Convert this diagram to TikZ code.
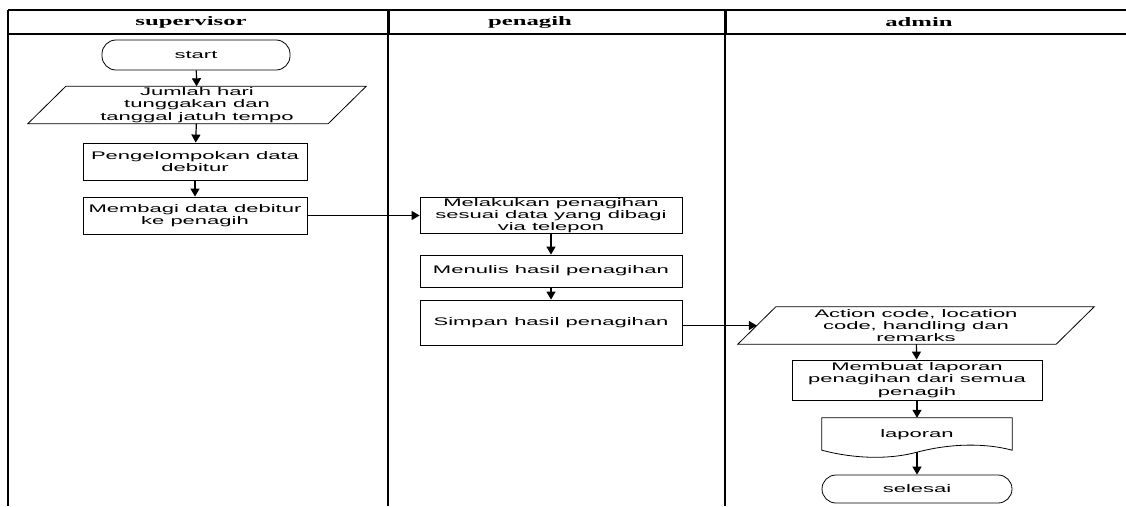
\documentclass[tikz,border=0pt]{standalone}
\usepackage{fontspec}
\newfontfamily\bodyfont[FakeStretch=2.0]{Liberation Sans}
\newfontfamily\headfont[FakeStretch=1.9]{Liberation Serif}
\usetikzlibrary{arrows.meta}
\begin{document}
\begin{tikzpicture}[x=1pt,y=-1pt,
  proc/.style={draw, line width=0.8pt, inner sep=0pt, align=center,
    font=\bodyfont\fontsize{11}{12.2}\selectfont},
  term/.style={proc, rounded corners=14pt},
  io/.style={inner sep=0pt, align=center,
    font=\bodyfont\fontsize{11}{12.2}\selectfont},
  shapeline/.style={line width=0.8pt},
  arr/.style={line width=1.2pt, -{Triangle[length=8pt,width=9pt]}},
  lane/.style={line width=1.4pt},
  lanehead/.style={line width=3pt},
  head/.style={font=\headfont\bfseries\fontsize{13}{15}\selectfont}]
\useasboundingbox (0,0) rectangle (1126,506);
\fill[white] (0,0) rectangle (1126,506);

% swimlane frame
\draw[lane] (8,10) -- (1126,10);
\draw[lane] (8,34) -- (1126,34);
\draw[lane] (8,10) -- (8,506);
\draw[lane] (388,10) -- (388,506);
\draw[lane] (725,10) -- (725,506);
\draw[lanehead] (388,10) -- (388,34);
\draw[lanehead] (725,10) -- (725,34);

\node[head] (hs) at (191,22) {supervisor};
\node[head] (hp) at (530,22) {penagih};
\node[head] (ha) at (919,22) {admin};

% supervisor lane
\node[term, minimum width=188pt, minimum height=30pt] (start) at (196,55) {start};
\node[io, minimum width=300pt, minimum height=37pt] (in1) at (197,105) {Jumlah hari\\tunggakan dan\\tanggal jatuh tempo};
\node[proc, minimum width=224pt, minimum height=37pt] (p1) at (195,161.5) {Pengelompokan data\\debitur};
\node[proc, minimum width=224pt, minimum height=37pt] (p2) at (195,215.5) {Membagi data debitur\\ke penagih};

% penagih lane
\node[proc, minimum width=262pt, minimum height=36pt] (q1) at (551,215.5) {Melakukan penagihan\\sesuai data yang dibagi\\via telepon};
\node[proc, minimum width=262pt, minimum height=32pt] (q2) at (551,271) {Menulis hasil penagihan};
\node[proc, minimum width=262pt, minimum height=45pt] (q3) at (551,322.5) {Simpan hasil penagihan};

% admin lane
\node[io, minimum width=318pt, minimum height=37pt] (in2) at (916,325.5) {Action code, location\\code, handling dan\\remarks};
\node[proc, minimum width=250pt, minimum height=40pt] (m1) at (917,380) {Membuat laporan\\penagihan dari semua\\penagih};
\node[io, minimum width=190pt, minimum height=34pt] (doc) at (917,435) {laporan};
\node[term, minimum width=190pt, minimum height=28pt] (end) at (917,489) {selesai};

% parallelograms
\foreach \n in {in1,in2}
  \draw[shapeline] ([xshift=19pt]\n.north west) -- ([xshift=19pt]\n.north east)
    -- ([xshift=-19pt]\n.south east) -- ([xshift=-19pt]\n.south west) -- cycle;

% document shape
\draw[shapeline] (doc.north west) -- (doc.north east) -- ([yshift=2pt]doc.south east)
  .. controls +(-30pt,8pt) and +(30pt,8pt) .. (doc.south)
  .. controls +(-30pt,-8pt) and +(30pt,-8pt) .. ([yshift=2pt]doc.south west) -- cycle;

% connectors
\draw[arr] (start) -- (in1);
\draw[arr] (in1) -- (p1);
\draw[arr] (p1) -- (p2);
\draw[arr] (p2.east) -- (q1.west);
\draw[arr] (q1) -- (q2);
\draw[arr] (q2) -- (q3);
\draw[arr] (q3.east |- in2.west) -- (in2.west);
\draw[arr] (in2) -- (m1);
\draw[arr] (m1) -- (doc);
\draw[arr] (doc.south) -- (end);
\end{tikzpicture}
\end{document}
